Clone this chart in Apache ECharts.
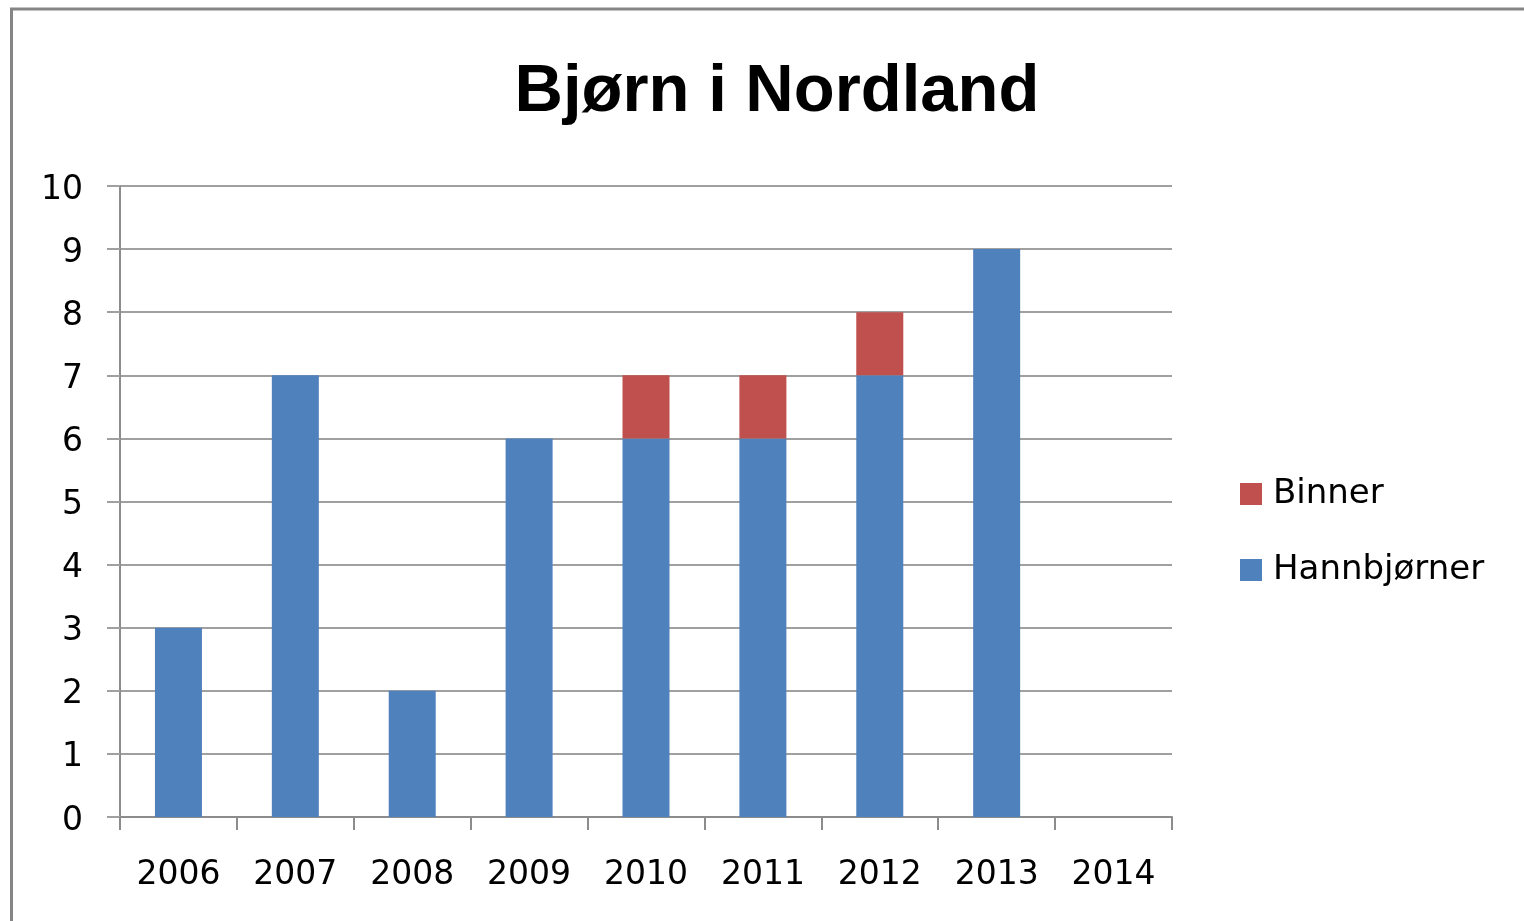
<!DOCTYPE html>
<html>
<head>
<meta charset="utf-8">
<script src="https://cdn.jsdelivr.net/npm/echarts@6/dist/echarts.min.js"></script>
<style>
html,body{margin:0;padding:0;background:#fff;overflow:hidden;}
#chart{width:1524px;height:921px;}
</style>
</head>
<body>
<div id="chart"></div>
<script>
const years = ['2006','2007','2008','2009','2010','2011','2012','2013','2014'];
const hannbjorner = [3, 7, 2, 6, 6, 6, 7, 9, null];
const binner = [null, null, null, null, 1, 1, 1, null, null];
const yTicks = {min: 0, max: 10, interval: 1};

const titleFont = "'Liberation Sans', Arial, sans-serif";
const font = "'DejaVu Sans', sans-serif";
const chart = echarts.init(document.getElementById('chart'));
chart.setOption({
  backgroundColor: '#fff',
  animation: false,
  title: {
    text: 'Bjørn i Nordland',
    left: 772, top: 54, textAlign: 'center',
    textStyle: {fontFamily: titleFont, fontWeight: 'bold', fontSize: 67, color: '#000'}
  },
  graphic: [{
    type: 'polyline',
    shape: {points: [[11.5, 921], [11.5, 9], [1524, 9]]},
    style: {stroke: '#858585', lineWidth: 3, fill: null}
  }],
  legend: {
    orient: 'vertical',
    left: 1240, top: 474, padding: 0,
    itemWidth: 22, itemHeight: 22, itemGap: 36,
    icon: 'rect',
    data: ['Binner', 'Hannbjørner'],
    textStyle: {fontFamily: font, fontSize: 34, lineHeight: 34, color: '#000', padding: [6, 0, 0, 6]}
  },
  grid: {left: 120, right: 352, top: 186, bottom: 104},
  xAxis: {
    type: 'category',
    data: years,
    axisLine: {lineStyle: {color: '#8c8c8c', width: 2}},
    axisTick: {show: true, length: 13, lineStyle: {color: '#8c8c8c', width: 2}},
    axisLabel: {fontFamily: font, fontSize: 33, color: '#000', margin: 42}
  },
  yAxis: {
    type: 'value',
    min: yTicks.min, max: yTicks.max, interval: yTicks.interval,
    axisLine: {show: true, lineStyle: {color: '#8c8c8c', width: 2}},
    axisTick: {show: true, length: 13, lineStyle: {color: '#a0a0a0', width: 2}},
    splitLine: {lineStyle: {color: '#a0a0a0', width: 2}},
    axisLabel: {
      margin: 37,
      formatter: '{v|{value}}',
      rich: {v: {fontFamily: font, fontSize: 33, color: '#000', padding: [8, 0, 0, 0]}}
    }
  },
  series: [
    {name: 'Hannbjørner', type: 'bar', stack: 'total', data: hannbjorner, barWidth: 47,
     itemStyle: {color: '#4F81BD'}},
    {name: 'Binner', type: 'bar', stack: 'total', data: binner, barWidth: 47,
     itemStyle: {color: '#C0504D'}}
  ]
});
</script>
</body>
</html>
